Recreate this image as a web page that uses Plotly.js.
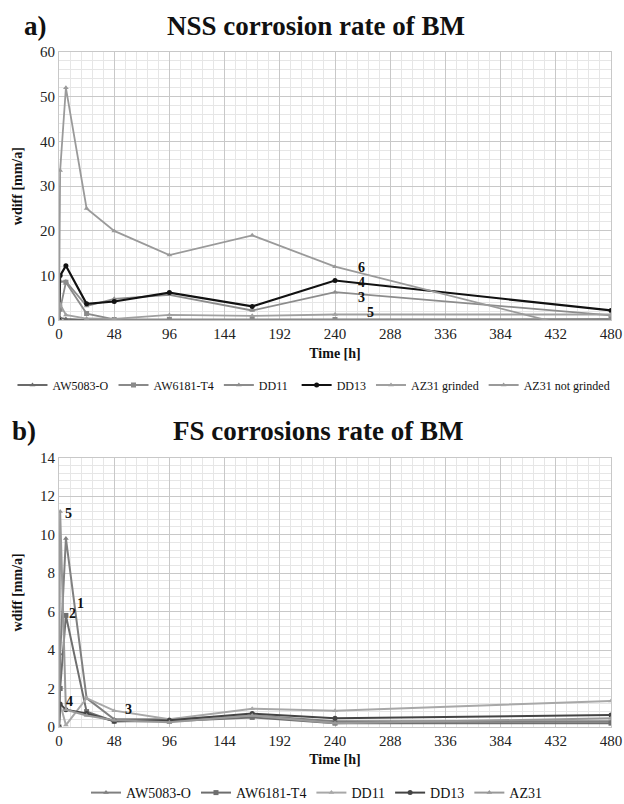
<!DOCTYPE html>
<html><head><meta charset="utf-8">
<script src="https://cdn.plot.ly/plotly-3.0.1.min.js"></script>
<style>body{margin:0;background:#fff}#c{width:624px;height:804px}</style>
</head><body><div id="c"></div>
<script>
const timesA = [0, 1, 6, 24, 48, 96, 168, 240, 480];
const namesA = ['AW5083-O','AW6181-T4','DD11','DD13','AZ31 grinded','AZ31 not grinded'];
const nssAW5083 = [0, 0.5, 0.3, 0.1, 0.1, 0.1, 0.1, 0.1, 0.1];
const nssAW6181 = [0, 2.5, 8.5, 1.5, 0.2, 0.2, 0.2, 0.2, 0.3];
const nssDD11   = [0, 8.7, 8.7, 3.2, 4.8, 5.7, 2.2, 6.3, 1.1];
const nssDD13   = [0, 10.0, 12.2, 3.7, 4.2, 6.2, 3.1, 8.9, 2.2];
const nssAZ31g  = [0, 3.6, 1.2, 0.4, 0.3, 1.2, 1.0, 1.3, 1.3];
const nssAZ31ng = [0, 33.5, 52.0, 25.0, 20.0, 14.6, 19.0, 12.0, -3.6];

const timesB = [0, 1, 6, 24, 48, 96, 168, 240, 480];
const namesB = ['AW5083-O','AW6181-T4','DD11','DD13','AZ31'];
const fsAW5083 = [0, 3.8, 9.8, 1.5, 0.4, 0.4, 0.6, 0.3, 0.3];
const fsAW6181 = [0, 2.0, 5.8, 0.8, 0.3, 0.3, 0.5, 0.2, 0.2];
const fsDD11   = [0, 1.2, 0.1, 1.5, 0.85, 0.4, 0.95, 0.85, 1.35];
const fsDD13   = [0, 1.2, 0.9, 0.7, 0.3, 0.35, 0.7, 0.45, 0.62];
const fsAZ31   = [0, 11.2, 0.9, 0.6, 0.35, 0.25, 0.6, 0.2, 0.45];

const xTicks = [0, 48, 96, 144, 192, 240, 288, 336, 384, 432, 480];

const colorsA = ['#6a6a6a','#8a8a8a','#8c8c8c','#111111','#a0a0a0','#9a9a9a'];
const colorsB = ['#808080','#6e6e6e','#a8a8a8','#444444','#999999'];
const symbols = ['triangle-up','square','triangle-up','circle','triangle-up','triangle-up'];

const dataA = [nssAW5083, nssAW6181, nssDD11, nssDD13, nssAZ31g, nssAZ31ng];
const dataB = [fsAW5083, fsAW6181, fsDD11, fsDD13, fsAZ31];

const traces = [];
dataA.forEach((ys, i) => traces.push({
  x: timesA, y: ys, name: namesA[i], type: 'scatter', mode: 'lines+markers',
  xaxis: 'x', yaxis: 'y', legend: i < 3 ? 'legend' : 'legend3',
  line: {color: colorsA[i], width: i === 3 ? 2.2 : 1.8},
  marker: {symbol: symbols[i], size: 5, color: colorsA[i]}
}));
dataB.forEach((ys, i) => traces.push({
  x: timesB, y: ys, name: namesB[i], type: 'scatter', mode: 'lines+markers',
  xaxis: 'x2', yaxis: 'y2', legend: 'legend2',
  line: {color: colorsB[i], width: 2},
  marker: {symbol: symbols[i], size: 5, color: colorsB[i]}
}));

const serif = 'Liberation Serif, Times New Roman, serif';
const gridMaj = '#c8c8c8', gridMin = '#e6e6e6';
function xax(anchor){ return {
  anchor: anchor, range: [0, 480], tickvals: xTicks, showgrid: true, gridcolor: gridMaj,
  minor: {dtick: 9.6, showgrid: true, gridcolor: gridMin},
  zeroline: false, showline: true, linecolor: gridMaj, mirror: true, ticks: '',
  tickfont: {family: serif, size: 15, color: '#222'},
  title: {text: '<b>Time [h]</b>', font: {family: serif, size: 14, color: '#111'}, standoff: 6}
};}
function yax(anchor, dom, max, dt){ return {
  anchor: anchor, domain: dom, range: [0, max], dtick: dt, showgrid: true, gridcolor: gridMaj,
  minor: {dtick: dt/5, showgrid: true, gridcolor: gridMin},
  zeroline: false, showline: true, linecolor: gridMaj, mirror: true, ticks: '',
  tickfont: {family: serif, size: 15, color: '#222'},
  title: {text: '<b>wdiff [mm/a]</b>', font: {family: serif, size: 14, color: '#111'}, standoff: 14}
};}

const annFont = {family: serif, size: 14, color: '#111'};
function lab(x, y, t, xr, yr){ return {x: x, y: y, xref: xr, yref: yr, text: '<b>'+t+'</b>', showarrow: false, font: annFont}; }

const titleFont = {family: serif, size: 27, color: '#111'};
const legFont = {family: serif, size: 12, color: '#111'};

const layout = {
  width: 624, height: 804, paper_bgcolor: '#fff', plot_bgcolor: '#fff',
  margin: {l: 59, r: 13, t: 52, b: 77, autoexpand: false},
  showlegend: true,
  xaxis: xax('y'), yaxis: yax('x', [0.6025, 1], 60, 10),
  xaxis2: xax('y2'), yaxis2: yax('x2', [0, 0.399], 14, 2),
  legend: {orientation: 'h', xref: 'container', yref: 'container', x: 0.02, xanchor: 'left', y: 1 - 385/804, yanchor: 'middle',
    font: legFont, itemwidth: 30, bgcolor: 'rgba(0,0,0,0)'},
  legend3: {orientation: 'h', xref: 'container', yref: 'container', x: 0.985, xanchor: 'right', y: 1 - 385/804, yanchor: 'middle',
    font: legFont, itemwidth: 30, bgcolor: 'rgba(0,0,0,0)'},
  legend2: {orientation: 'h', xref: 'container', yref: 'container', x: 317/624, xanchor: 'center', y: 1 - 793/804, yanchor: 'middle',
    font: {family: serif, size: 14, color: '#111'}, itemwidth: 30, bgcolor: 'rgba(0,0,0,0)'},
  annotations: [
    lab(7, -0.9, '1', 'x', 'y'),
    lab(263, -0.7, '2', 'x', 'y'),
    lab(263, 5.2, '3', 'x', 'y'),
    lab(263, 8.5, '4', 'x', 'y'),
    lab(271, 1.8, '5', 'x', 'y'),
    lab(263, 11.8, '6', 'x', 'y'),
    lab(8, 11.1, '5', 'x2', 'y2'),
    lab(19, 6.4, '1', 'x2', 'y2'),
    lab(12, 5.9, '2', 'x2', 'y2'),
    lab(60, 0.9, '3', 'x2', 'y2'),
    lab(9, 1.3, '4', 'x2', 'y2')
  ]
};
// panel titles, placed by container pixel position
const titleSpecs = [[22, 26, 'a)', 'left'], [316, 26, 'NSS corrosion rate of BM'], [10, 431, 'b)', 'left'], [318, 431, 'FS corrosions rate of BM']];
const pw = 624 - 59 - 13, ph = 804 - 52 - 77;
titleSpecs.forEach(s => {
  layout.annotations.push({text: '<b>' + s[2] + '</b>', x: (s[0] - 59) / pw, y: (804 - 77 - s[1]) / ph,
    xref: 'paper', yref: 'paper', showarrow: false, font: titleFont, xanchor: s[3] || 'center', yanchor: 'middle'});
});

Plotly.newPlot('c', traces, layout, {staticPlot: true});
</script></body></html>
